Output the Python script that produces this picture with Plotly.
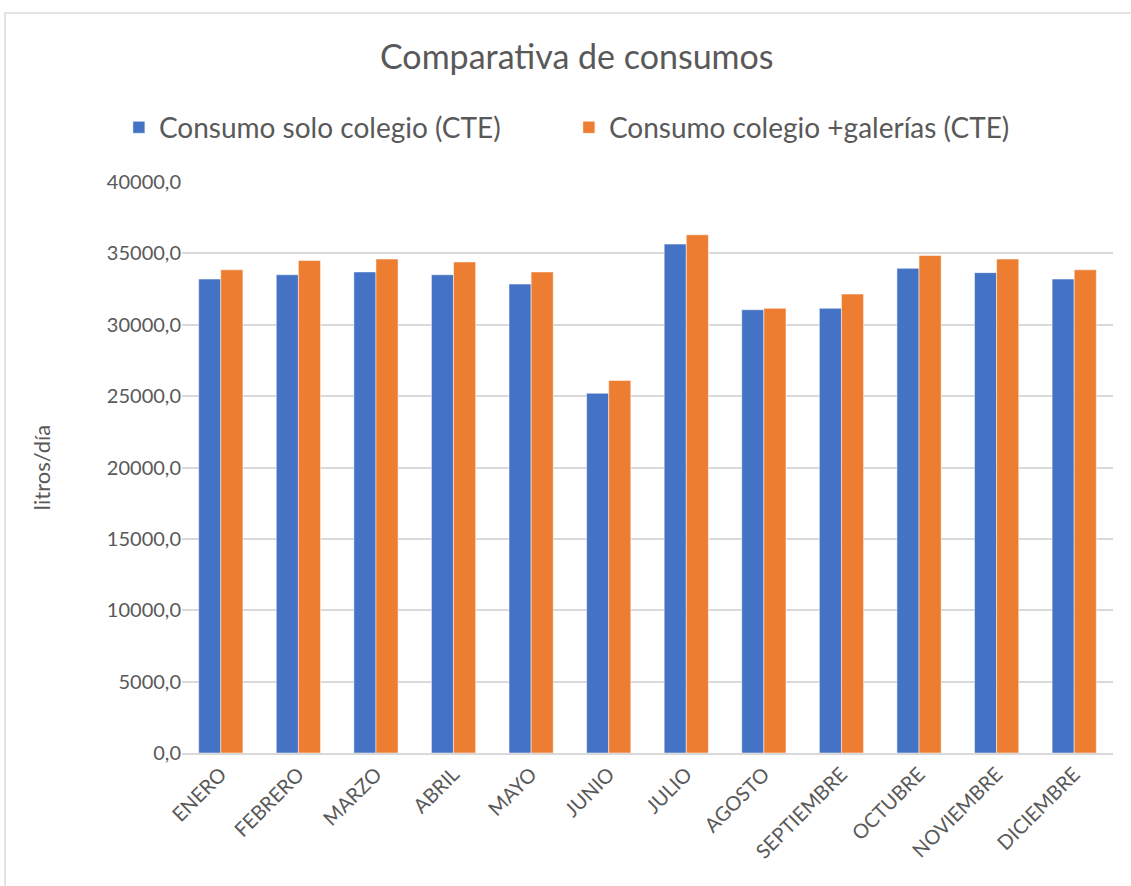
import plotly.graph_objects as go

meses = ["ENERO", "FEBRERO", "MARZO", "ABRIL", "MAYO", "JUNIO", "JULIO",
         "AGOSTO", "SEPTIEMBRE", "OCTUBRE", "NOVIEMBRE", "DICIEMBRE"]
solo_colegio = [33200, 33500, 33700, 33500, 32850, 25200, 35650,
                31050, 31150, 33950, 33650, 33200]
colegio_galerias = [33850, 34500, 34600, 34400, 33700, 26100, 36300,
                    31150, 32150, 34850, 34600, 33850]
ytick_vals = [0, 5000, 10000, 15000, 20000, 25000, 30000, 35000, 40000]

FONT = "Lato"
GRAY = "#595959"

fig = go.Figure()
fig.add_trace(go.Bar(x=meses, y=solo_colegio, name="Consumo solo colegio (CTE)",
                     marker=dict(color="#4472C4", line=dict(color="#FFFFFF", width=0.5))))
fig.add_trace(go.Bar(x=meses, y=colegio_galerias, name="Consumo colegio +galerías (CTE)",
                     marker=dict(color="#ED7D31", line=dict(color="#FFFFFF", width=0.5))))

fig.update_layout(
    width=1131, height=886,
    margin=dict(l=182, r=18, t=182, b=133, autoexpand=False),
    paper_bgcolor="white", plot_bgcolor="white",
    separators=", ",
    barmode="group", bargap=0.43, bargroupgap=0,
    font=dict(family=FONT, color=GRAY),
    title=dict(text="Comparativa de consumos", x=0.51, xanchor="center",
               y=0.935, yanchor="middle", xref="container",
               font=dict(size=34, color=GRAY, family=FONT)),
    legend=dict(orientation="h", x=0.503, xanchor="center", xref="container",
                y=0.856, yanchor="middle", yref="container",
                font=dict(size=28, color=GRAY, family=FONT),
                itemwidth=30, traceorder="normal",
                entrywidth=405, entrywidthmode="pixels"),
    xaxis=dict(tickangle=-45, tickfont=dict(size=20, color=GRAY, family=FONT),
               showline=True, linecolor="#d9d9d9", linewidth=1.5,
               showgrid=False, ticks=""),
    yaxis=dict(range=[0, 40000], tickvals=ytick_vals, tickformat=".1f",
               tickfont=dict(size=20, color=GRAY, family=FONT),
               showgrid=True, gridcolor="#d9d9d9", gridwidth=1.5,
               zeroline=False, showline=False, ticks="", ticklen=0,
               title=dict(text="litros/día", font=dict(size=22, color=GRAY, family=FONT),
                          standoff=50)),
)

fig.add_shape(type="rect", xref="paper", yref="paper",
              x0=-0.19, x1=1.2, y0=-0.5, y1=1.296,
              line=dict(color="#d9d9d9", width=1.5), fillcolor="rgba(0,0,0,0)", layer="below")

fig.write_html("out.html")
